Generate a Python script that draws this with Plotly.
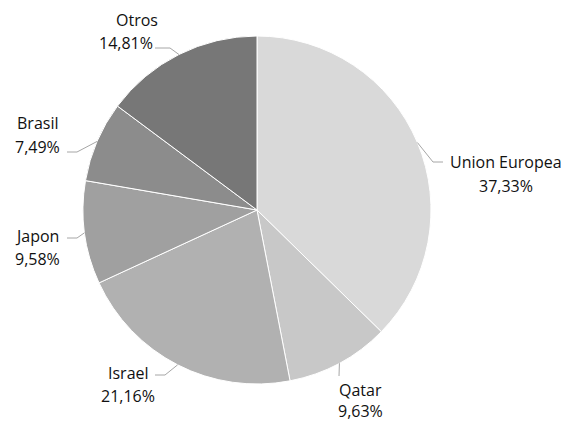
import math
import plotly.graph_objects as go

# ---- data ----
categories = ["Union Europea", "Qatar", "Israel", "Japon", "Brasil", "Otros"]
values = [37.33, 9.63, 21.16, 9.58, 7.49, 14.81]
pct_labels = ["37,33%", "9,63%", "21,16%", "9,58%", "7,49%", "14,81%"]
colors = ["#d9d9d9", "#c8c8c8", "#b1b1b1", "#a0a0a0", "#8c8c8c", "#777777"]

# ---- layout ----
W, H = 565, 421
CX, CY, R = 257, 210, 174
FONT = "Open Sans"
FS = 16
TXT = "#111111"
LINE = "#a6a6a6"

# label layout per slice: (name xy, pct xy, elbow, end) in px
label_layout = [
    dict(n=(506, 162), p=(506, 186), pts=[(433, 162), (443, 162)]),
    dict(n=(361, 390), p=(361, 411), pts=[(339, 376)]),
    dict(n=(128, 373), p=(128, 396), pts=[(165, 375), (155, 375)]),
    dict(n=(37, 236), p=(37, 259), pts=[(77, 238), (67, 238)]),
    dict(n=(37, 123), p=(37, 147), pts=[(77, 152), (67, 152)]),
    dict(n=(137, 20), p=(126, 43), pts=[(170, 48), (155, 48)]),
]

def px(x, y):
    return x / W, 1 - y / H

fig = go.Figure(go.Pie(
    labels=categories, values=values, sort=False, direction="clockwise",
    rotation=0, textinfo="none", hoverinfo="skip", showlegend=False,
    marker=dict(colors=colors, line=dict(color="white", width=1)),
    domain=dict(x=[(CX - R) / W, (CX + R) / W], y=[1 - (CY + R) / H, 1 - (CY - R) / H]),
))

total = sum(values)
cum = 0
annotations = []
shapes = []
for cat, v, pl, lay in zip(categories, values, pct_labels, label_layout):
    mid = (cum + v / 2) / total * 2 * math.pi
    cum += v
    ex, ey = CX + R * math.sin(mid), CY - R * math.cos(mid)
    pts = [(ex, ey)] + lay["pts"]
    path = "M " + " L ".join(f"{px(x, y)[0]},{px(x, y)[1]}" for x, y in pts)
    shapes.append(dict(type="path", path=path, xref="paper", yref="paper",
                       line=dict(color=LINE, width=1)))
    for txt, (x, y) in ((cat, lay["n"]), (pl, lay["p"])):
        ax, ay = px(x, y)
        annotations.append(dict(text=txt, x=ax, y=ay, xref="paper", yref="paper",
                                xanchor="center", yanchor="middle", showarrow=False,
                                font=dict(family=FONT, size=FS, color=TXT)))

fig.update_layout(width=W, height=H, margin=dict(l=0, r=0, t=0, b=0),
                  paper_bgcolor="white", plot_bgcolor="white",
                  annotations=annotations, shapes=shapes)
fig.write_html("out.html", config={"displayModeBar": False},
               post_script="document.body.style.margin='0';")
